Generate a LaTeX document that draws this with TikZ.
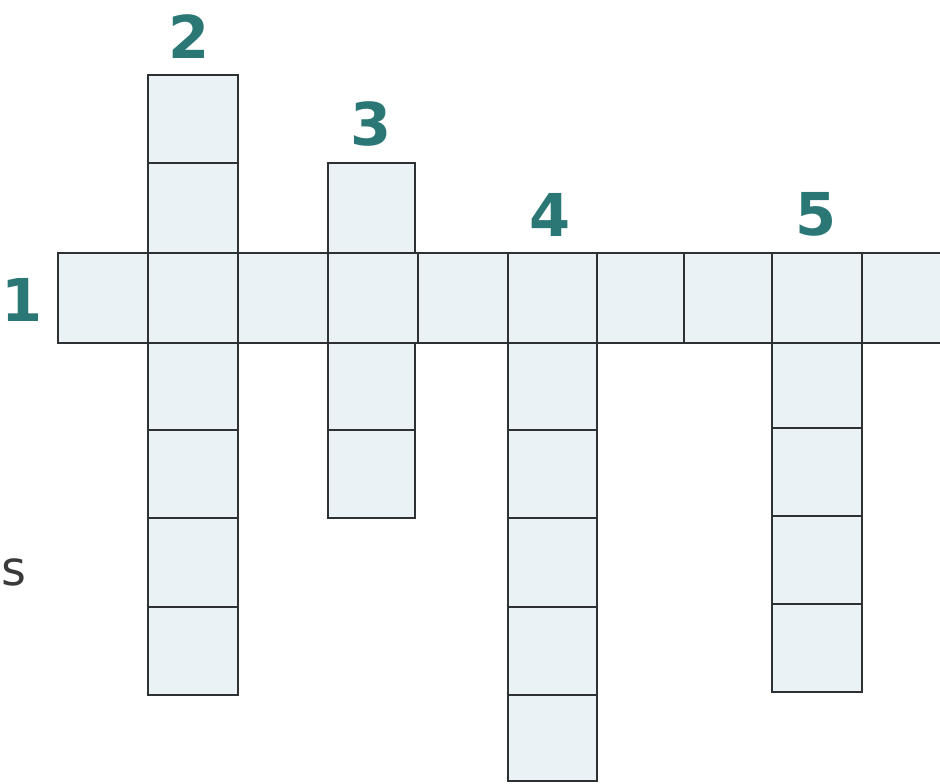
\documentclass[tikz,border=0pt]{standalone}
\usepackage{fontspec}
\setsansfont{DejaVu Sans}
\usetikzlibrary{positioning}
\definecolor{gridline}{HTML}{2E3133}
\definecolor{cellfill}{HTML}{EAF2F5}
\definecolor{cluecol}{HTML}{2B7775}
\definecolor{textgray}{HTML}{3A3A3A}

\begin{document}
\begin{tikzpicture}[
    x=0.025cm, y=-0.025cm,
    cell/.style={draw=gridline, fill=cellfill, line width=1.5pt},
    num/.style={inner sep=0pt, text=cluecol, font=\sffamily\bfseries\fontsize{42}{46}\selectfont},
    lbl/.style={inner sep=0pt, text=textgray, font=\sffamily\fontsize{34}{38}\selectfont}
]
    \useasboundingbox (0,0) rectangle (940,783);
    \clip (0,0) rectangle (940,783);
    % row 1 (across)
    \foreach \xa/\xb in {58/148,148/238,238/328,328/418,418/508,508/597,597/684,684/772,772/862,862/955}
        \draw[cell] (\xa,253) rectangle (\xb,343);
    % column 2 (down)
    \foreach \ya/\yb in {75/163,163/253,343/430,430/518,518/607,607/695}
        \draw[cell] (148,\ya) rectangle (238,\yb);
    % column 3 (down)
    \foreach \ya/\yb in {163/253,343/430,430/518}
        \draw[cell] (328,\ya) rectangle (415,\yb);
    % column 4 (down)
    \foreach \ya/\yb in {343/430,430/518,518/607,607/695,695/781}
        \draw[cell] (508,\ya) rectangle (597,\yb);
    % column 5 (down)
    \foreach \ya/\yb in {343/428,428/516,516/604,604/692}
        \draw[cell] (772,\ya) rectangle (862,\yb);
    % starts of the words
    \coordinate (start1) at (58,300);
    \coordinate (start2) at (189,75);
    \coordinate (start3) at (371,163);
    \coordinate (start4) at (550,253);
    \coordinate (start5) at (816,253);
    \node[num, left=0.38cm of start1] (num1) {1};
    \node[num, above=0.4cm of start2] (num2) {2};
    \node[num, above=0.4cm of start3] (num3) {3};
    \node[num, above=0.4cm of start4] (num4) {4};
    \node[num, above=0.4cm of start5] (num5) {5};
    \node[lbl, anchor=base west] (cut) at (1,585) {s};
\end{tikzpicture}
\end{document}
